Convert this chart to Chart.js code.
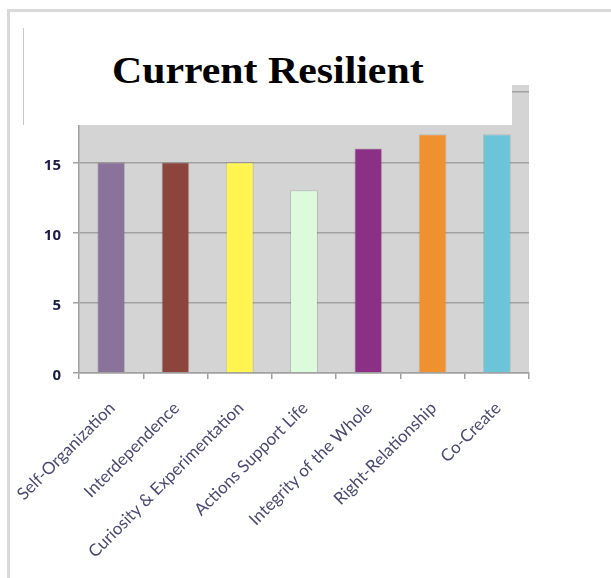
<!DOCTYPE html>
<html>
<head>
<meta charset="utf-8">
<script src="https://cdn.jsdelivr.net/npm/chart.js@4"></script>
<style>
  body { margin: 0; background: #fff; }
  #wrap { position: relative; width: 611px; height: 578px; overflow: hidden; }
  #frame { position: absolute; left: 7px; top: 9px; width: 700px; height: 700px;
           border-top: 3px solid #d9d9d9; border-left: 3px solid #d9d9d9; }
  #myChart { position: absolute; left: 0; top: 0; }
  #titlebox { position: absolute; left: 23px; top: 28px; width: 488px; height: 97px;
              background: #fff; border-left: 1px solid #c8c8c8; }
  #title { position: absolute; left: 88px; top: 24px; margin: 0; white-space: nowrap;
           font: bold 37px/37px "Liberation Serif", "Times New Roman", serif; color: #000;
           transform: scaleX(1.13); transform-origin: left top; }
</style>
</head>
<body>
<div id="wrap">
  <div id="frame"></div>
  <canvas id="myChart" width="611" height="578"></canvas>
  <div id="titlebox"><h1 id="title">Current Resilient</h1></div>
</div>
<script>
// data
var categories = ['Self-Organization', 'Interdependence', 'Curiosity & Experimentation',
  'Actions Support Life', 'Integrity of the Whole', 'Right-Relationship', 'Co-Create'];
var values = [15, 15, 15, 13, 16, 17, 17];
var barColors = ['#8a739b', '#8b453c', '#fff450', '#dcfadc', '#8c3085', '#f0912f', '#6cc4d8'];
var yTicks = [0, 5, 10, 15, 20];

// gray plot background
var plotBg = {
  id: 'plotBg',
  beforeDraw: function(chart) {
    var a = chart.chartArea, c = chart.ctx;
    c.save();
    c.fillStyle = '#d4d4d4';
    c.fillRect(a.left, a.top, a.right - a.left, a.bottom - a.top);
    c.restore();
  }
};

const ctx = document.getElementById('myChart');

var resChart = new Chart(ctx, {
  type: 'bar',
  data: {
    labels: categories,
    datasets: [{
      label: 'Current Resilient',
      data: values,
      backgroundColor: barColors,
      borderColor: 'rgba(0,0,0,0.12)',
      borderWidth: 1,
      barPercentage: 0.435,
      categoryPercentage: 1
    }]
  },
  options: {
    responsive: false,
    animation: false,
    layout: { padding: { top: 85, right: 82, left: 0, bottom: 0 } },
    plugins: {
      legend: { display: false },
      title: { display: false },
      tooltip: { enabled: false }
    },
    scales: {
      x: {
        afterFit: function(s) { s.height = 205; s.paddingLeft = 0; s.paddingRight = 0; },
        grid: { display: true, drawOnChartArea: false, offset: true, tickLength: 6, color: '#a0a0a0', lineWidth: 1.5 },
        border: { color: '#a0a0a0', width: 1.5 },
        ticks: {
          minRotation: 45, maxRotation: 45, autoSkip: false,
          padding: 19,
          labelOffset: 1,
          color: '#4a4a6e',
          font: { family: 'Lato', size: 17 }
        }
      },
      y: {
        min: 0, max: 20.5,
        afterFit: function(s) { s.width = 79; },
        afterBuildTicks: function(s) {
          s.ticks = yTicks.map(function(v) { return { value: v }; });
        },
        grid: { color: '#a2a2a2', lineWidth: 1.5, tickLength: 6 },
        border: { color: '#a0a0a0', width: 1.5 },
        ticks: {
          stepSize: 5,
          padding: 12,
          labelOffset: 3,
          color: '#1c1c48',
          font: { family: 'Noto Sans', size: 15, weight: 'bold' }
        }
      }
    }
  },
  plugins: [plotBg]
});
</script>
</body>
</html>
